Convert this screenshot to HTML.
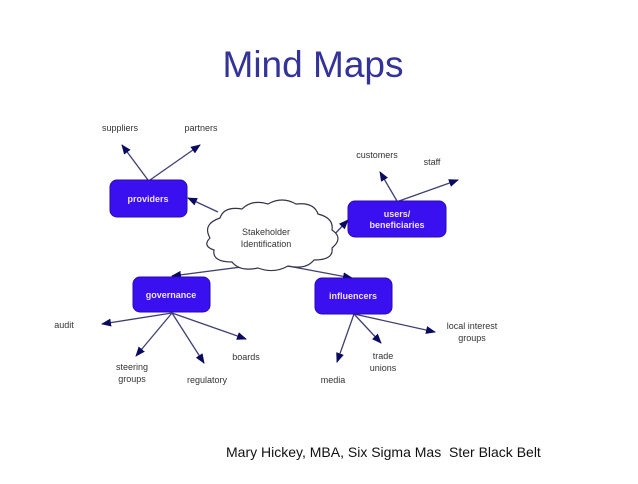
<!DOCTYPE html>
<html><head><style>
body{margin:0;background:#fff;width:638px;height:479px;overflow:hidden;font-family:"Liberation Sans",sans-serif;}
</style></head><body>
<svg width="638" height="479" xmlns="http://www.w3.org/2000/svg" font-family="Liberation Sans, sans-serif">
<defs>
<marker id="a" markerWidth="10" markerHeight="8" refX="9" refY="4" orient="auto" markerUnits="userSpaceOnUse"><path d="M0,0 L10,4 L0,8 z" fill="#0a0a60"/></marker>
</defs>
<text x="313" y="77" font-size="37" fill="#333399" text-anchor="middle">Mind Maps</text>
<g stroke="#404070" stroke-width="1.3" fill="none" marker-end="url(#a)">
<line x1="148" y1="180" x2="122" y2="145"/>
<line x1="150" y1="180" x2="200" y2="145"/>
<line x1="218" y1="212" x2="188" y2="198"/>
<line x1="332" y1="237" x2="348" y2="220"/>
<line x1="397" y1="201" x2="380" y2="172"/>
<line x1="399" y1="201" x2="458" y2="180"/>
<line x1="272" y1="263" x2="172" y2="276"/>
<line x1="272" y1="263" x2="352" y2="278"/>
<line x1="172" y1="313" x2="102" y2="324"/>
<line x1="172" y1="313" x2="136" y2="356"/>
<line x1="172" y1="313" x2="204" y2="363"/>
<line x1="172" y1="313" x2="246" y2="339"/>
<line x1="354" y1="314" x2="337" y2="362"/>
<line x1="354" y1="314" x2="381" y2="343"/>
<line x1="354" y1="314" x2="435" y2="332"/>
</g>
<path d="M210,238 q-8,-14 10,-20 q4,-12 22,-9 q10,-10 26,-5 q14,-8 28,0 q18,-2 22,10 q16,4 14,16 q12,8 0,18 q2,12 -18,12 q-8,10 -26,6 q-14,8 -30,2 q-18,4 -26,-6 q-20,0 -18,-12 q-12,-4 -4,-12z" fill="#fff" stroke="#334" stroke-width="1.2"/>
<text x="266" y="235" font-size="9" fill="#333" text-anchor="middle">Stakeholder</text>
<text x="266" y="247" font-size="9" fill="#333" text-anchor="middle">Identification</text>
<g fill="#3a10f0" stroke="#2a0ab0">
<rect x="110" y="180" width="77" height="37" rx="7"/>
<rect x="348" y="201" width="98" height="36" rx="7"/>
<rect x="133" y="277" width="77" height="35" rx="7"/>
<rect x="315" y="278" width="77" height="36" rx="7"/>
</g>
<g fill="#f0e0ff" font-size="9" font-weight="bold" text-anchor="middle">
<text x="148" y="202">providers</text>
<text x="397" y="217">users/</text>
<text x="397" y="228">beneficiaries</text>
<text x="171" y="298">governance</text>
<text x="353" y="299">influencers</text>
</g>
<g fill="#333" font-size="9" text-anchor="middle">
<text x="120" y="131">suppliers</text>
<text x="201" y="131">partners</text>
<text x="377" y="158">customers</text>
<text x="432" y="165">staff</text>
<text x="64" y="328">audit</text>
<text x="132" y="370">steering</text>
<text x="132" y="382">groups</text>
<text x="207" y="383">regulatory</text>
<text x="246" y="360">boards</text>
<text x="333" y="383">media</text>
<text x="383" y="359">trade</text>
<text x="383" y="371">unions</text>
<text x="472" y="329">local interest</text>
<text x="472" y="341">groups</text>
</g>
<text x="226" y="457" font-size="14" fill="#111">Mary Hickey, MBA, Six Sigma Mas</text>
<text x="449" y="457" font-size="14" fill="#111">Ster Black Belt</text>
</svg>
</body></html>
